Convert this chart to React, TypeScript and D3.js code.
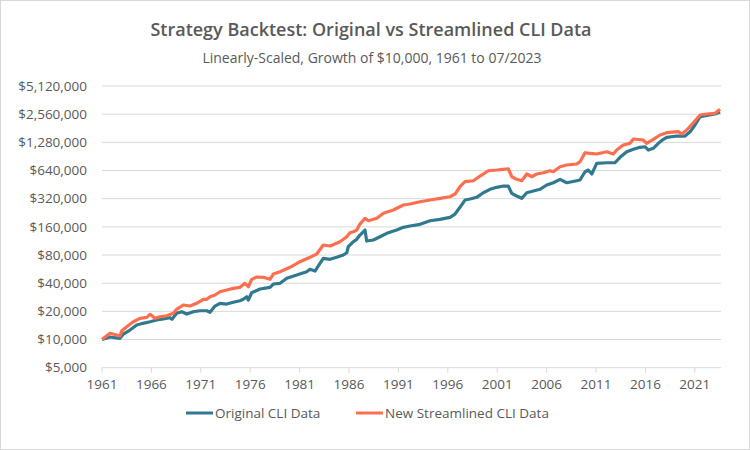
import * as d3 from 'd3'

// Growth of $10,000 (decimal years)
const origYears = [
  1961.0, 1961.8, 1962.82, 1963.16, 1963.83, 1964.52, 1965.15, 1965.86, 1966.54, 1967.2,
  1967.88, 1968.08, 1968.56, 1969.07, 1969.57, 1970.24, 1970.92, 1971.6, 1971.93, 1972.44,
  1972.94, 1973.62, 1974.29, 1974.97, 1975.3, 1975.65, 1975.81, 1976.15, 1977.0, 1978.0,
  1978.34, 1979.02, 1979.7, 1980.71, 1981.72, 1982.05, 1982.56, 1983.06, 1983.4, 1984.08,
  1984.75, 1985.42, 1985.77, 1985.93, 1986.44, 1986.78, 1987.11, 1987.62, 1987.79, 1988.46,
  1989.14, 1989.82, 1990.83, 1991.5, 1992.17, 1993.19, 1994.2, 1995.21, 1996.22, 1996.73,
  1997.23, 1997.74, 1998.25, 1998.93, 1999.59, 2000.27, 2000.95, 2001.62, 2002.12, 2002.47,
  2002.97, 2003.48, 2003.99, 2004.66, 2005.33, 2006.01, 2006.68, 2007.36, 2008.03, 2009.05,
  2009.38, 2009.89, 2010.22, 2010.57, 2011.07, 2012.08, 2012.92, 2013.43, 2014.11, 2014.78,
  2015.45, 2015.96, 2016.3, 2016.8, 2017.31, 2017.82, 2018.16, 2019.17, 2020.01, 2020.52,
  2021.02, 2021.53, 2022.21, 2023.05, 2023.55,
]
const origValues = [
  10000, 10635, 10300, 11450, 12630, 14290, 14900, 15500, 16160, 16560,
  17100, 16440, 19050, 19820, 18730, 19820, 20310, 20310, 19530, 22800,
  24370, 23950, 24980, 25980, 26890, 28660, 26430, 31630, 34650, 36130,
  39180, 39860, 45090, 48900, 53040, 56260, 53960, 65200, 73750, 71970,
  75580, 80000, 84630, 98100, 110950, 117700, 130850, 147960, 112900, 115700,
  125450, 136400, 147960, 158130, 163250, 170200, 185950, 192500, 202200, 219300,
  258700, 309500, 317300, 330900, 370500, 402900, 423200, 436900, 436900, 365100,
  341600, 322800, 370500, 386400, 402900, 447800, 473800, 515200, 473800, 497700,
  506300, 621000, 647600, 587000, 763900, 775100, 775100, 885300, 1016000, 1078000,
  1132000, 1149000, 1059000, 1104000, 1249000, 1379000, 1448000, 1495000, 1495000, 1663000,
  1961000, 2404000, 2489000, 2569000, 2700000,
]

const newYears = [
  1961.0, 1961.8, 1962.49, 1962.82, 1962.99, 1963.5, 1964.17, 1964.85, 1965.52, 1965.86,
  1966.36, 1966.87, 1967.55, 1968.22, 1968.56, 1969.23, 1969.91, 1970.58, 1971.25, 1971.6,
  1971.93, 1972.44, 1972.94, 1973.62, 1974.29, 1974.97, 1975.47, 1975.81, 1976.15, 1976.66,
  1977.33, 1978.0, 1978.34, 1979.02, 1980.03, 1981.04, 1982.05, 1982.73, 1983.4, 1984.08,
  1985.09, 1985.77, 1986.1, 1986.44, 1986.78, 1987.11, 1987.62, 1987.96, 1988.81, 1989.48,
  1990.49, 1991.5, 1992.17, 1993.19, 1994.2, 1995.21, 1996.22, 1996.73, 1997.23, 1997.74,
  1998.58, 1999.26, 2000.1, 2000.95, 2001.62, 2002.12, 2002.47, 2002.97, 2003.48, 2003.99,
  2004.49, 2005.0, 2005.67, 2006.34, 2006.68, 2007.36, 2008.03, 2009.05, 2009.38, 2009.89,
  2010.39, 2011.07, 2012.08, 2012.75, 2013.1, 2013.76, 2014.44, 2014.78, 2015.79, 2016.13,
  2016.8, 2017.48, 2018.16, 2019.33, 2019.68, 2020.18, 2020.85, 2021.53, 2022.21, 2023.05,
  2023.55,
]
const newValues = [
  10000, 11650, 11170, 10900, 12330, 13700, 15500, 16850, 17270, 18590,
  16850, 17520, 17960, 19050, 21020, 23370, 22800, 24370, 26890, 26890,
  28660, 29890, 32420, 33800, 35250, 36130, 39860, 36660, 43980, 46600,
  46210, 43980, 50110, 53040, 59100, 67830, 75580, 81960, 102300, 99790,
  110950, 125450, 138400, 141900, 147960, 171500, 197300, 185950, 197300, 223100,
  242000, 273800, 280600, 296900, 309500, 322800, 335700, 358800, 429400, 485800,
  497700, 558700, 636400, 647600, 659000, 668600, 549200, 515200, 497700, 587000,
  549200, 587000, 605800, 636400, 621000, 702400, 732600, 750600, 794500, 991300,
  977000, 960200, 1016000, 960200, 1059000, 1199000, 1249000, 1389000, 1355000, 1249000,
  1379000, 1533000, 1622000, 1663000, 1571000, 1733000, 2074000, 2508000, 2569000, 2614000,
  2884000,
]

const yTicks = [5000, 10000, 20000, 40000, 80000, 160000, 320000, 640000, 1280000, 2560000, 5120000]
const xTicks = [1961, 1966, 1971, 1976, 1981, 1986, 1991, 1996, 2001, 2006, 2011, 2016, 2021]

const W = 750
const H = 450
const left = 102
const right = 721
const top = 86
const bottom = 367.7

const blue = '#31798F'
const red = '#FF6F4F'
const textColor = '#595959'
const font = '"Open Sans", sans-serif'

export default function App() {
  const x = d3.scaleLinear().domain([1961, 2023.65]).range([left, right])
  const y = d3.scaleLog().base(2).domain([5000, 5120000]).range([bottom, top])
  const fmt = d3.format(',')

  const line = d3.line<[number, number]>()
    .x(d => x(d[0]))
    .y(d => y(d[1]))

  const origPts = origYears.map((t, i) => [t, origValues[i]] as [number, number])
  const newPts = newYears.map((t, i) => [t, newValues[i]] as [number, number])

  return (
    <div style={{ position: 'fixed', left: 0, top: 0 }}>
      <svg width={W} height={H} style={{ display: 'block', fontFamily: font }}>
        <rect x={0.5} y={0.5} width={W - 1} height={H - 1} fill="#fff" stroke="#d9d9d9" />

        <text x={371} y={36} textAnchor="middle" fontSize={18} fontWeight={600} fill={textColor}>
          Strategy Backtest: Original vs Streamlined CLI Data
        </text>
        <text x={372} y={63} textAnchor="middle" fontSize={14} fill={textColor}>
          Linearly-Scaled, Growth of $10,000, 1961 to 07/2023
        </text>

        {yTicks.map(t => (
          <g key={t}>
            <line x1={left} x2={right} y1={y(t)} y2={y(t)} stroke="#d9d9d9" strokeWidth={1} />
            <text x={87} y={y(t)} dy="0.35em" textAnchor="end" fontSize={13.5} fill={textColor}>
              {'$' + fmt(t)}
            </text>
          </g>
        ))}

        {xTicks.map(t => (
          <g key={t}>
            <line x1={x(t)} x2={x(t)} y1={bottom} y2={bottom + 5} stroke="#d9d9d9" />
            <text x={x(t)} y={389} textAnchor="middle" fontSize={13.5} fill={textColor}>
              {t}
            </text>
          </g>
        ))}

        <path d={line(origPts) ?? ''} fill="none" stroke={blue} strokeWidth={3.2} strokeLinejoin="round" />
        <path d={line(newPts) ?? ''} fill="none" stroke={red} strokeWidth={3.2} strokeLinejoin="round" />

        <g fontSize={13.5} fill={textColor}>
          <line x1={186} x2={213} y1={413} y2={413} stroke={blue} strokeWidth={3} />
          <text x={215} y={413} dy="0.35em">Original CLI Data</text>
          <line x1={356} x2={383} y1={413} y2={413} stroke={red} strokeWidth={3} />
          <text x={385} y={413} dy="0.35em">New Streamlined CLI Data</text>
        </g>
      </svg>
    </div>
  )
}
